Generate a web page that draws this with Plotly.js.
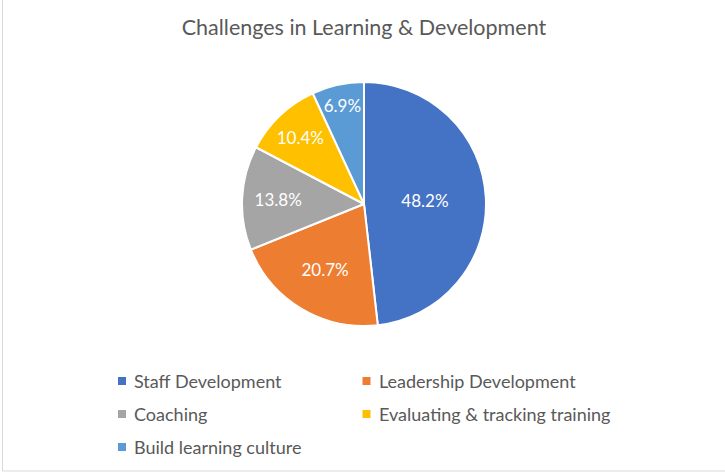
<!DOCTYPE html>
<html>
<head>
<meta charset="utf-8">
<script src="https://cdn.plot.ly/plotly-3.0.1.min.js"></script>
<style>
html,body{margin:0;padding:0;background:#fff;}
#chart{width:725px;height:473px;}
</style>
</head>
<body>
<div id="chart"></div>
<script>
var categories = ["Staff Development", "Leadership Development", "Coaching", "Evaluating & tracking training", "Build learning culture"];
var shares = [48.2, 20.7, 13.8, 10.4, 6.9];
var sliceColors = ["#4472C4", "#ED7D31", "#A5A5A5", "#FFC000", "#5B9BD5"];
var chartTitle = "Challenges in Learning & Development";

var W = 725, H = 473;
var cx = 364, cy = 204, r = 122;
var FONT = "Lato, 'Open Sans', sans-serif";

var trace = {
  type: "pie",
  labels: categories,
  values: shares,
  sort: false,
  direction: "clockwise",
  rotation: 0,
  marker: {colors: sliceColors, line: {color: "#ffffff", width: 2}},
  texttemplate: "%{percent:.1%}",
  textposition: "inside",
  insidetextorientation: "horizontal",
  insidetextfont: {color: "#ffffff", size: 17, family: FONT},
  hoverinfo: "label+percent",
  showlegend: false,
  domain: {x: [(cx - r) / W, (cx + r) / W], y: [1 - (cy + r) / H, 1 - (cy - r) / H]}
};

// Excel-style legend: two columns, built from the category / colour arrays
var legColX = [122, 366.5];
var legRowY = [381, 414, 447];
var sq = 8;
var shapes = [
  {type: "line", xref: "paper", yref: "paper", x0: 2.5 / W, x1: 2.5 / W, y0: 1 - 471 / H, y1: 1, line: {color: "#d9d9d9", width: 1}},
  {type: "line", xref: "paper", yref: "paper", x0: 2.5 / W, x1: 1, y0: 1 - 471 / H, y1: 1 - 471 / H, line: {color: "#d9d9d9", width: 1}}
];
var annotations = [];
categories.forEach(function (name, i) {
  var mx = legColX[i % 2], my = legRowY[Math.floor(i / 2)];
  shapes.push({type: "rect", xref: "paper", yref: "paper",
    x0: (mx - sq / 2) / W, x1: (mx + sq / 2) / W,
    y0: 1 - (my + sq / 2) / H, y1: 1 - (my - sq / 2) / H,
    fillcolor: sliceColors[i], line: {width: 0}});
  annotations.push({xref: "paper", yref: "paper", x: (mx + 10) / W, y: 1 - my / H,
    xanchor: "left", yanchor: "middle", showarrow: false, text: name,
    font: {size: 18, color: "#595959", family: FONT}});
});

var layout = {
  width: W, height: H,
  margin: {l: 0, r: 0, t: 0, b: 0},
  paper_bgcolor: "#ffffff",
  font: {family: FONT, color: "#595959"},
  title: {text: chartTitle, x: 0.502, xanchor: "center", y: 1 - 27 / H, yanchor: "middle",
          font: {size: 21.5, color: "#595959", family: FONT}},
  showlegend: false,
  shapes: shapes,
  annotations: annotations
};

Plotly.newPlot("chart", [trace], layout, {displayModeBar: false, staticPlot: true});
</script>
</body>
</html>
